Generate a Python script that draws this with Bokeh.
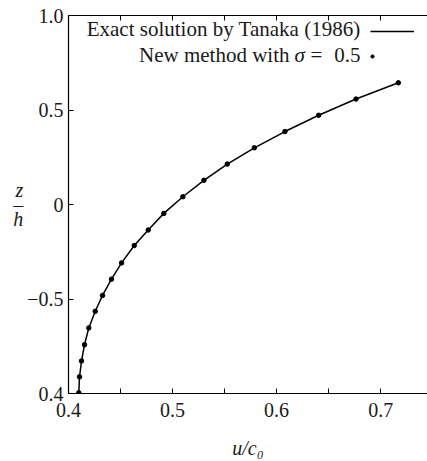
from bokeh.plotting import figure
from bokeh.models import LinearAxis, FixedTicker, Range1d, Label, Legend, LegendItem
from bokeh.embed import file_html
from bokeh.resources import INLINE

# ---- data ----
exact_u = [0.4099, 0.4106, 0.4125, 0.4154, 0.4195, 0.4257, 0.4327, 0.4413, 0.4510, 0.4632,
           0.4766, 0.4916, 0.5099, 0.5301, 0.5526, 0.5786, 0.6080, 0.6404, 0.6763, 0.7170]
exact_z = [-0.996, -0.912, -0.828, -0.742, -0.653, -0.565, -0.481, -0.395, -0.309, -0.217,
           -0.135, -0.047, 0.041, 0.128, 0.214, 0.300, 0.386, 0.472, 0.558, 0.644]
new_u = [0.4099, 0.4106, 0.4125, 0.4154, 0.4195, 0.4257, 0.4327, 0.4413, 0.4510, 0.4632,
         0.4766, 0.4916, 0.5099, 0.5301, 0.5526, 0.5786, 0.6080, 0.6404, 0.6763, 0.7170]
new_z = [-0.996, -0.912, -0.828, -0.742, -0.653, -0.565, -0.481, -0.395, -0.309, -0.217,
         -0.135, -0.047, 0.041, 0.128, 0.214, 0.300, 0.386, 0.472, 0.558, 0.644]

x_major = [0.4, 0.5, 0.6, 0.7]
x_minor = [0.45, 0.55, 0.65]
x_top_ticks = [0.45, 0.5, 0.55, 0.6, 0.65, 0.7]
x_labels = ["0.4", "0.5", "0.6", "0.7"]
y_major = [-1.0, -0.5, 0.0, 0.5, 1.0]
y_labels = ["0.4", "\u22120.5", "0", "0.5", "1.0"]

x_title = "u/c\u2080"
y_title = "z\n\u2013\nh"
legend_exact = "Exact solution by Tanaka (1986)"
legend_new_a = "New method with"
legend_new_b = "\u03c3"
legend_new_c = "="
legend_new_d = "0.5"

FONT = "Liberation Serif"
TXT = "#1a1a1a"

p = figure(width=427, height=461, output_backend="svg", toolbar_location=None,
           x_range=Range1d(0.4, 0.745), y_range=Range1d(-1.0, 1.0),
           x_axis_location=None, y_axis_location=None,
           min_border_left=68, min_border_right=0, min_border_top=15, min_border_bottom=66)
p.outline_line_color = None
p.background_fill_color = "white"
p.border_fill_color = "white"
p.xgrid.grid_line_color = None
p.ygrid.grid_line_color = None


def style(ax):
    ax.axis_line_color = "black"
    ax.axis_line_width = 1.2
    ax.major_tick_in = 5
    ax.major_tick_out = 0
    ax.minor_tick_in = 5
    ax.minor_tick_out = 0
    ax.major_tick_line_color = "black"
    ax.minor_tick_line_color = "black"
    ax.major_label_text_font = FONT
    ax.major_label_text_font_size = "20px"
    ax.major_label_text_color = TXT
    ax.major_label_standoff = 5
    ax.axis_label_text_font = FONT
    ax.axis_label_text_font_size = "20px"
    ax.axis_label_text_font_style = "italic"
    ax.axis_label_text_color = TXT


bottom = LinearAxis(ticker=FixedTicker(ticks=x_major, minor_ticks=x_minor),
                    major_label_overrides=dict(zip(x_major, x_labels)),
                    axis_label=x_title)
style(bottom)
bottom.major_label_standoff = 9
bottom.axis_label_standoff = 17
p.add_layout(bottom, "below")

top = LinearAxis(ticker=FixedTicker(ticks=[], minor_ticks=x_top_ticks))
style(top)
p.add_layout(top, "above")

left = LinearAxis(ticker=FixedTicker(ticks=y_major),
                  major_label_overrides=dict(zip(y_major, y_labels)),
                  axis_label=y_title)
style(left)
left.axis_label_orientation = "horizontal"
left.axis_label_text_line_height = 0.65
left.axis_label_standoff = 1
p.add_layout(left, "left")

line_r = p.line(exact_u, exact_z, line_color="black", line_width=1.5)
dot_r = p.scatter(new_u, new_z, size=4.5, color="black")

# legend samples (glyphs to the right of the texts)
for rend, loc, gw in ((line_r, (302, 357), 44), (dot_r, (300, 332), 8)):
    lg = Legend(items=[LegendItem(label=" ", renderers=[rend])], location=loc,
                glyph_width=gw, glyph_height=10, label_height=10, label_width=1,
                label_text_font_size="10px", label_standoff=0, padding=0, margin=0,
                spacing=0, border_line_color=None, background_fill_alpha=0)
    p.add_layout(lg)


def lab(text, x, y, size="21px", style="normal", align="right"):
    p.add_layout(Label(x=x, y=y, x_units="screen", y_units="screen", text=text,
                       text_font=FONT, text_font_size=size, text_font_style=style,
                       text_color=TXT, text_align=align, text_baseline="middle"))


lab(legend_exact, 292, 365)
lab(legend_new_a, 221, 339)
lab(legend_new_b, 226, 339, style="italic", align="left")
lab(legend_new_c, 248, 339, align="center")
lab(legend_new_d, 292, 339)

open("out.html", "w").write(file_html(p, INLINE))
